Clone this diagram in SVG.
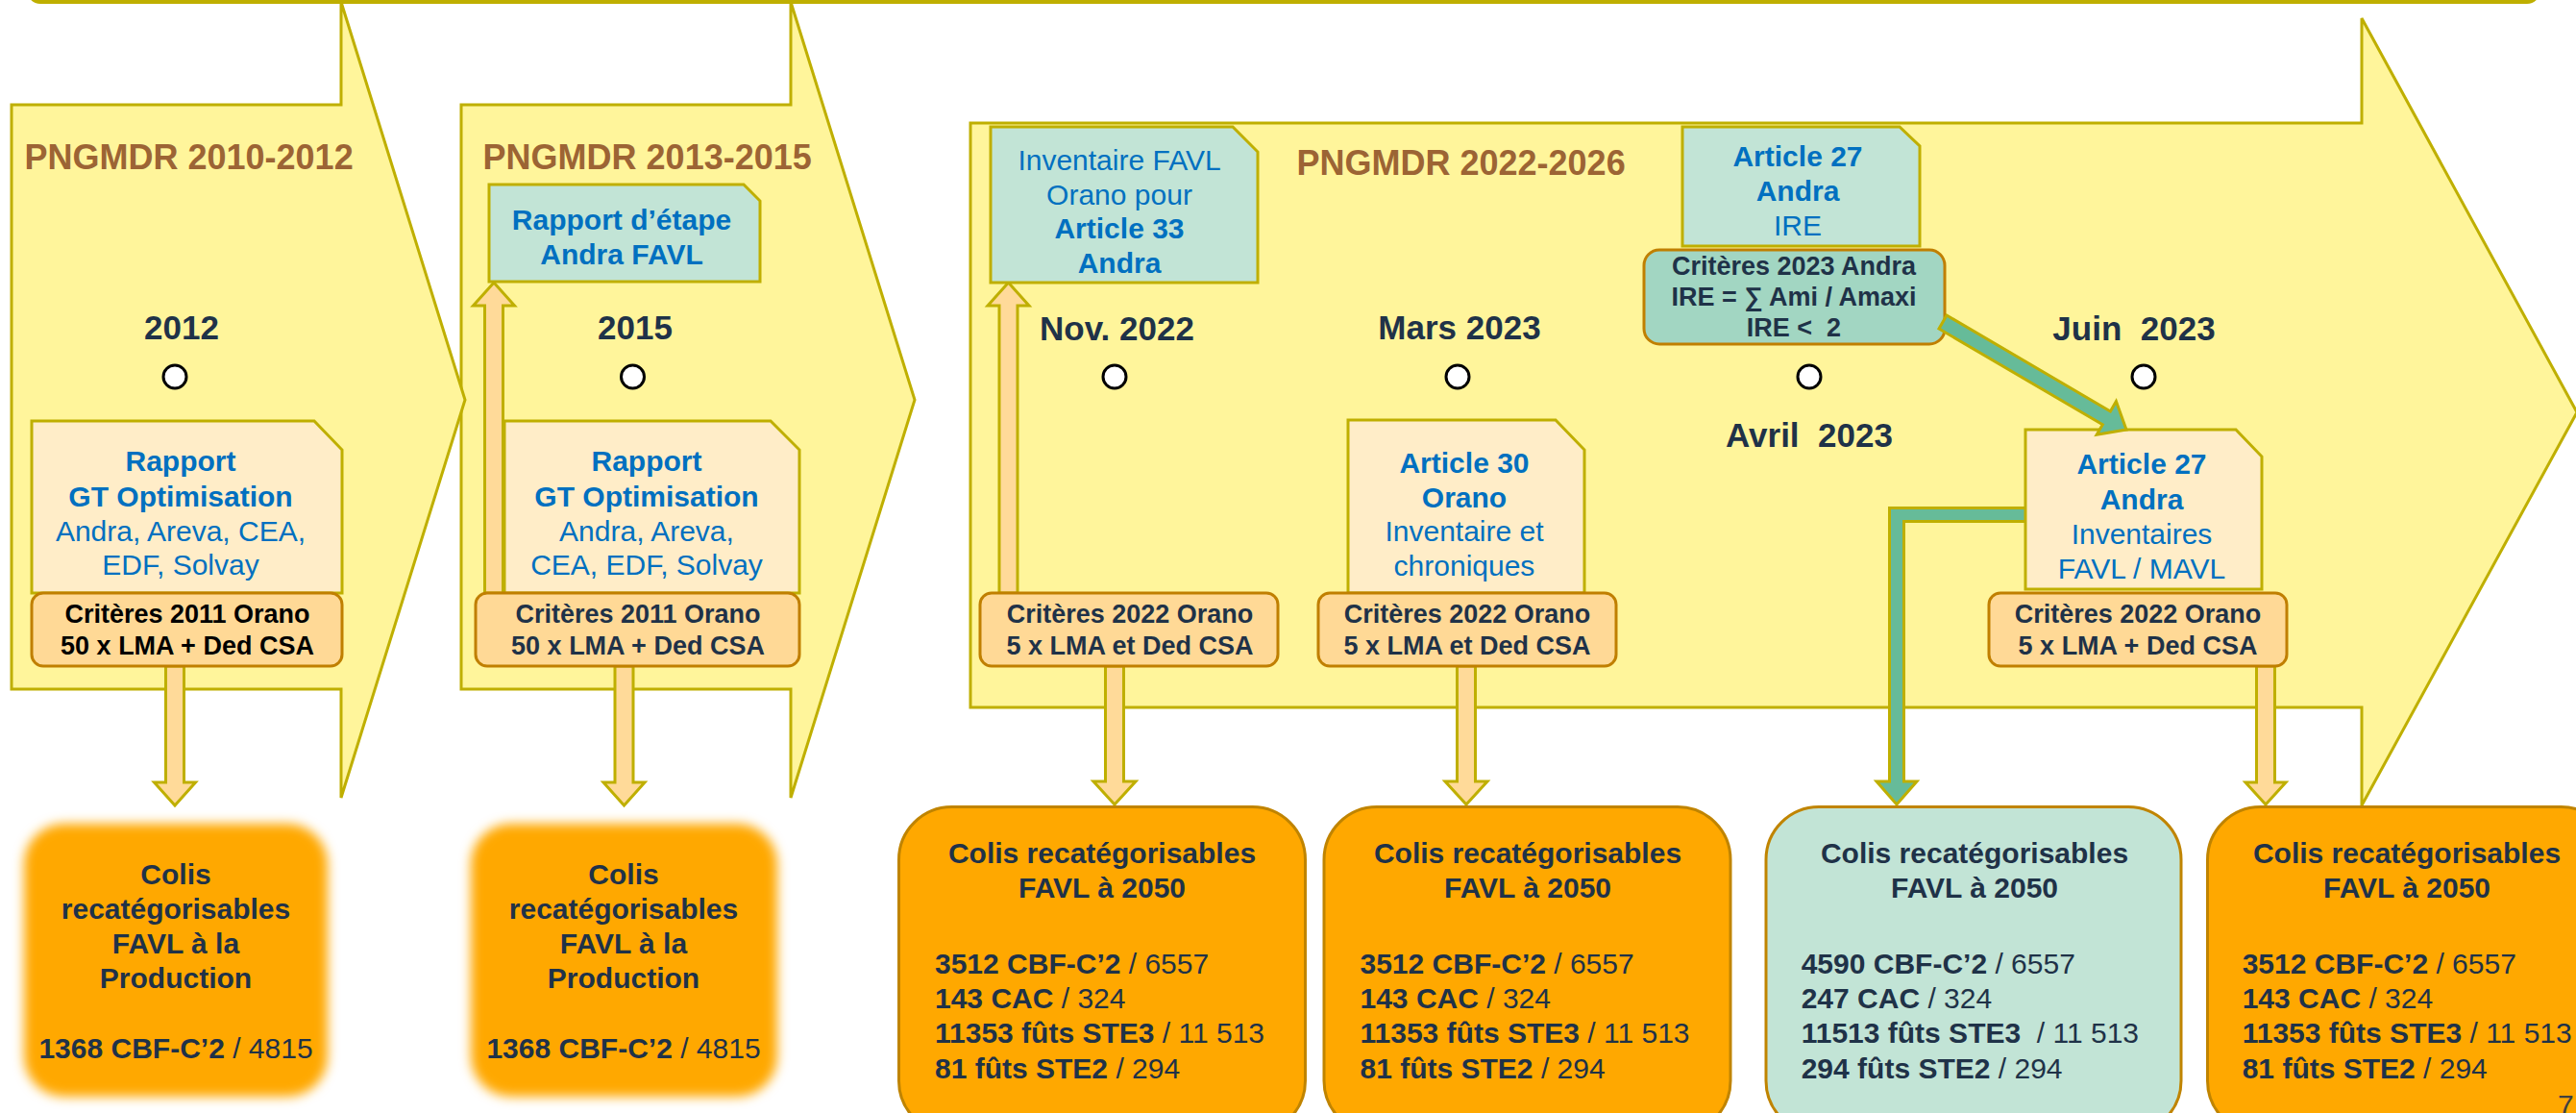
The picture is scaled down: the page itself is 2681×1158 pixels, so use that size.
<svg xmlns="http://www.w3.org/2000/svg" width="2681" height="1158" viewBox="0 0 2681 1158">
<defs>
<style>
.arr{fill:#FFF59B;stroke:#BFAF00;stroke-width:3}
.teal{fill:#C2E4D6;stroke:#BFAF00;stroke-width:3}
.cream{fill:#FFEDC8;stroke:#BFAF00;stroke-width:3}
.crit{fill:#FFD996;stroke:#C07F00;stroke-width:3}
.crit2{fill:#A2D6C2;stroke:#C07F00;stroke-width:3}
.colis{fill:#FFA800;stroke:#C08400;stroke-width:3}
.colisT{fill:#C2E4D6;stroke:#C08400;stroke-width:3}
.soft{fill:#FFA800}
.lo{fill:#FFDA99;stroke:#BFAF00;stroke-width:3}
.grn{fill:#66BB99;stroke:#BFAF00;stroke-width:3}
.dot{fill:#FFFFFF;stroke:#000000;stroke-width:3}
text{font-family:"Liberation Sans",Arial,sans-serif;white-space:pre}
.bl{font-size:30px;fill:#0070C0;text-anchor:middle}
.b{font-weight:bold}
.ct{font-size:27px;font-weight:bold;fill:#1F3248;text-anchor:middle}
.blk{fill:#000000}
.dt{font-size:35px;font-weight:bold;fill:#1F3248;text-anchor:middle}
.pl{font-size:36px;font-weight:bold;fill:#9C6434}
.cl{font-size:30px;font-weight:bold;fill:#1F3248}
.mid{text-anchor:middle}
.n{font-weight:normal}
</style>
<filter id="blur" x="-20%" y="-20%" width="140%" height="140%">
<feGaussianBlur stdDeviation="6"/>
</filter>
</defs>
<rect width="2681" height="1158" fill="#FFFFFF"/>

<g id="banner">
<rect x="30" y="-60" width="2612" height="62" rx="12" fill="#FFFFFF" stroke="#BFAF00" stroke-width="4"/>
</g>

<g id="periods">
<polygon id="p2013" class="arr" points="480,109 823,109 823,2 952,416 823,830 823,717 480,717"/>
<polygon id="p2010" class="arr" points="12,109 355,109 355,2 484,416 355,830 355,717 12,717"/>
<polygon id="p2022" class="arr" points="1010,128 2458,128 2458,19 2682,429 2458,838 2458,736 1010,736"/>
<text class="pl" x="25.5" y="176">PNGMDR 2010-2012</text>
<text class="pl" x="502.6" y="176">PNGMDR 2013-2015</text>
<text class="pl" x="1349.5" y="182">PNGMDR 2022-2026</text>
</g>

<g id="connectors">
<polygon class="lo" points="504.5,617 504.5,318 492.5,318 514,294 535.5,318 523.5,318 523.5,617"/>
<polygon class="lo" points="1040,617 1040,318 1028,318 1049.5,294 1071,318 1059,318 1059,617"/>
<polygon class="lo" points="172.5,693 191.5,693 191.5,814 203.5,814 182,838 160.5,814 172.5,814"/>
<polygon class="lo" points="640,693 659,693 659,814 671,814 649.5,838 628,814 640,814"/>
<polygon class="lo" points="1150.5,693 1169.5,693 1169.5,813 1182,813 1160,837 1138,813 1150.5,813"/>
<polygon class="lo" points="1516.5,693 1535.5,693 1535.5,813 1548,813 1526,837 1504,813 1516.5,813"/>
<polygon class="lo" points="2348.5,693 2367.5,693 2367.5,814 2379,814 2358,837 2337,814 2348.5,814"/>
<polygon class="grn" points="2110,528.5 1966.5,528.5 1966.5,813 1953,813 1974,837 1995,813 1981.5,813 1981.5,542.5 2110,542.5"/>
</g>

<g id="n-rapport1">
<path class="cream" d="M33,438 H327 L356,468 V617 H33 Z"/>
<text class="bl b" x="188" y="490">Rapport</text>
<text class="bl b" x="188" y="527">GT Optimisation</text>
<text class="bl" x="188" y="563">Andra, Areva, CEA,</text>
<text class="bl" x="188" y="598">EDF, Solvay</text>
</g>
<g id="n-crit1">
<rect class="crit" x="33" y="617" width="323" height="76" rx="12"/>
<text class="ct blk" x="195" y="648">Critères 2011 Orano</text>
<text class="ct blk" x="195" y="681">50 x LMA + Ded CSA</text>
</g>

<g id="n-rapport2">
<path class="cream" d="M525,438 H802 L832,468 V617 H525 Z"/>
<text class="bl b" x="673" y="490">Rapport</text>
<text class="bl b" x="673" y="527">GT Optimisation</text>
<text class="bl" x="673" y="563">Andra, Areva,</text>
<text class="bl" x="673" y="598">CEA, EDF, Solvay</text>
</g>
<g id="n-crit2">
<rect class="crit" x="495" y="617" width="337" height="76" rx="12"/>
<text class="ct" x="664" y="648">Critères 2011 Orano</text>
<text class="ct" x="664" y="681">50 x LMA + Ded CSA</text>
</g>
<g id="n-etape">
<path class="teal" d="M509,192 H774 L791,209 V293 H509 Z"/>
<text class="bl b" x="647" y="239">Rapport d’étape</text>
<text class="bl b" x="647" y="275">Andra FAVL</text>
</g>

<g id="n-inv33">
<path class="teal" d="M1031,132 H1283 L1309,158 V294 H1031 Z"/>
<text class="bl" x="1165" y="177">Inventaire FAVL</text>
<text class="bl" x="1165" y="213">Orano pour</text>
<text class="bl b" x="1165" y="248">Article 33</text>
<text class="bl b" x="1165" y="284">Andra</text>
</g>
<g id="n-crit3a">
<rect class="crit" x="1020" y="617" width="310" height="76" rx="12"/>
<text class="ct" x="1176" y="648">Critères 2022 Orano</text>
<text class="ct" x="1176" y="681">5 x LMA et Ded CSA</text>
</g>

<g id="n-art30">
<path class="cream" d="M1403,437 H1619 L1649,468 V617 H1403 Z"/>
<text class="bl b" x="1524" y="492">Article 30</text>
<text class="bl b" x="1524" y="528">Orano</text>
<text class="bl" x="1524" y="563">Inventaire et</text>
<text class="bl" x="1524" y="599">chroniques</text>
</g>
<g id="n-crit3b">
<rect class="crit" x="1372" y="617" width="310" height="76" rx="12"/>
<text class="ct" x="1527" y="648">Critères 2022 Orano</text>
<text class="ct" x="1527" y="681">5 x LMA et Ded CSA</text>
</g>

<g id="n-art27ire">
<path class="teal" d="M1751,132 H1977 L1998,152 V256 H1751 Z"/>
<text class="bl b" x="1871" y="173">Article 27</text>
<text class="bl b" x="1871" y="209">Andra</text>
<text class="bl" x="1871" y="245">IRE</text>
</g>
<g id="n-crit2023">
<rect class="crit2" x="1711" y="260" width="313" height="98" rx="16"/>
<text class="ct" x="1867" y="286">Critères 2023 Andra</text>
<text class="ct" x="1867" y="318">IRE = ∑ Ami / Amaxi</text>
<text class="ct" x="1867" y="350">IRE &lt;  2</text>
</g>

<g id="n-art27inv">
<path class="cream" d="M2108,447 H2327 L2354,475 V613 H2108 Z"/>
<text class="bl b" x="2229" y="493">Article 27</text>
<text class="bl b" x="2229" y="530">Andra</text>
<text class="bl" x="2229" y="566">Inventaires</text>
<text class="bl" x="2229" y="602">FAVL / MAVL</text>
</g>
<g id="n-crit3c">
<rect class="crit" x="2070" y="617" width="310" height="76" rx="12"/>
<text class="ct" x="2225" y="648">Critères 2022 Orano</text>
<text class="ct" x="2225" y="681">5 x LMA + Ded CSA</text>
</g>

<g id="connector-diag">
<polygon class="grn" points="2026,328 2196.4,428 2202.4,417.6 2213,447 2182.2,452.2 2188.3,441.8 2018,342"/>
</g>

<g id="milestones">
<circle class="dot" cx="182" cy="392" r="12"/>
<circle class="dot" cx="658.5" cy="392" r="12"/>
<circle class="dot" cx="1160" cy="392" r="12"/>
<circle class="dot" cx="1517" cy="392" r="12"/>
<circle class="dot" cx="1883" cy="392" r="12"/>
<circle class="dot" cx="2231" cy="392" r="12"/>
<text class="dt" x="189" y="353">2012</text>
<text class="dt" x="661" y="353">2015</text>
<text class="dt" x="1162.5" y="354">Nov. 2022</text>
<text class="dt" x="1519" y="353">Mars 2023</text>
<text class="dt" x="1883" y="465">Avril  2023</text>
<text class="dt" x="2221" y="354">Juin  2023</text>
</g>

<g id="n-colis1">
<rect class="soft" x="25" y="857" width="316" height="284" rx="42" filter="url(#blur)"/>
<text class="cl mid" x="183" y="920">Colis</text>
<text class="cl mid" x="183" y="956">recatégorisables</text>
<text class="cl mid" x="183" y="992">FAVL à la</text>
<text class="cl mid" x="183" y="1028">Production</text>
<text class="cl mid" x="183" y="1101">1368 CBF-C’2<tspan class="n"> / 4815</tspan></text>
</g>
<g id="n-colis2">
<rect class="soft" x="490" y="857" width="319" height="284" rx="42" filter="url(#blur)"/>
<text class="cl mid" x="649" y="920">Colis</text>
<text class="cl mid" x="649" y="956">recatégorisables</text>
<text class="cl mid" x="649" y="992">FAVL à la</text>
<text class="cl mid" x="649" y="1028">Production</text>
<text class="cl mid" x="649" y="1101">1368 CBF-C’2<tspan class="n"> / 4815</tspan></text>
</g>

<g id="n-colisA">
<rect class="colis" x="935.5" y="839.5" width="423" height="340" rx="55"/>
<text class="cl mid" x="1147" y="898">Colis recatégorisables</text>
<text class="cl mid" x="1147" y="934">FAVL à 2050</text>
<text class="cl" x="973" y="1013">3512 CBF-C’2<tspan class="n"> / 6557</tspan></text>
<text class="cl" x="973" y="1049">143 CAC<tspan class="n"> / 324</tspan></text>
<text class="cl" x="973" y="1085">11353 fûts STE3<tspan class="n"> / 11 513</tspan></text>
<text class="cl" x="973" y="1122">81 fûts STE2<tspan class="n"> / 294</tspan></text>
</g>
<g id="n-colisB">
<rect class="colis" x="1378" y="839.5" width="423" height="340" rx="55"/>
<text class="cl mid" x="1590" y="898">Colis recatégorisables</text>
<text class="cl mid" x="1590" y="934">FAVL à 2050</text>
<text class="cl" x="1415.5" y="1013">3512 CBF-C’2<tspan class="n"> / 6557</tspan></text>
<text class="cl" x="1415.5" y="1049">143 CAC<tspan class="n"> / 324</tspan></text>
<text class="cl" x="1415.5" y="1085">11353 fûts STE3<tspan class="n"> / 11 513</tspan></text>
<text class="cl" x="1415.5" y="1122">81 fûts STE2<tspan class="n"> / 294</tspan></text>
</g>
<g id="n-colisC">
<rect class="colisT" x="1838" y="839.5" width="432" height="340" rx="55"/>
<text class="cl mid" x="2055" y="898">Colis recatégorisables</text>
<text class="cl mid" x="2055" y="934">FAVL à 2050</text>
<text class="cl" x="1874.7" y="1013">4590 CBF-C’2<tspan class="n"> / 6557</tspan></text>
<text class="cl" x="1874.7" y="1049">247 CAC<tspan class="n"> / 324</tspan></text>
<text class="cl" x="1874.7" y="1085">11513 fûts STE3 <tspan class="n"> / 11 513</tspan></text>
<text class="cl" x="1874.7" y="1122">294 fûts STE2<tspan class="n"> / 294</tspan></text>
</g>
<g id="n-colisD">
<rect class="colis" x="2297.5" y="839.5" width="423" height="340" rx="55"/>
<text class="cl mid" x="2505" y="898">Colis recatégorisables</text>
<text class="cl mid" x="2505" y="934">FAVL à 2050</text>
<text class="cl" x="2333.7" y="1013">3512 CBF-C’2<tspan class="n"> / 6557</tspan></text>
<text class="cl" x="2333.7" y="1049">143 CAC<tspan class="n"> / 324</tspan></text>
<text class="cl" x="2333.7" y="1085">11353 fûts STE3<tspan class="n"> / 11 513</tspan></text>
<text class="cl" x="2333.7" y="1122">81 fûts STE2<tspan class="n"> / 294</tspan></text>
</g>

<g id="page">
<text x="2662" y="1160" font-size="30" fill="#404040">7</text>
</g>
</svg>
